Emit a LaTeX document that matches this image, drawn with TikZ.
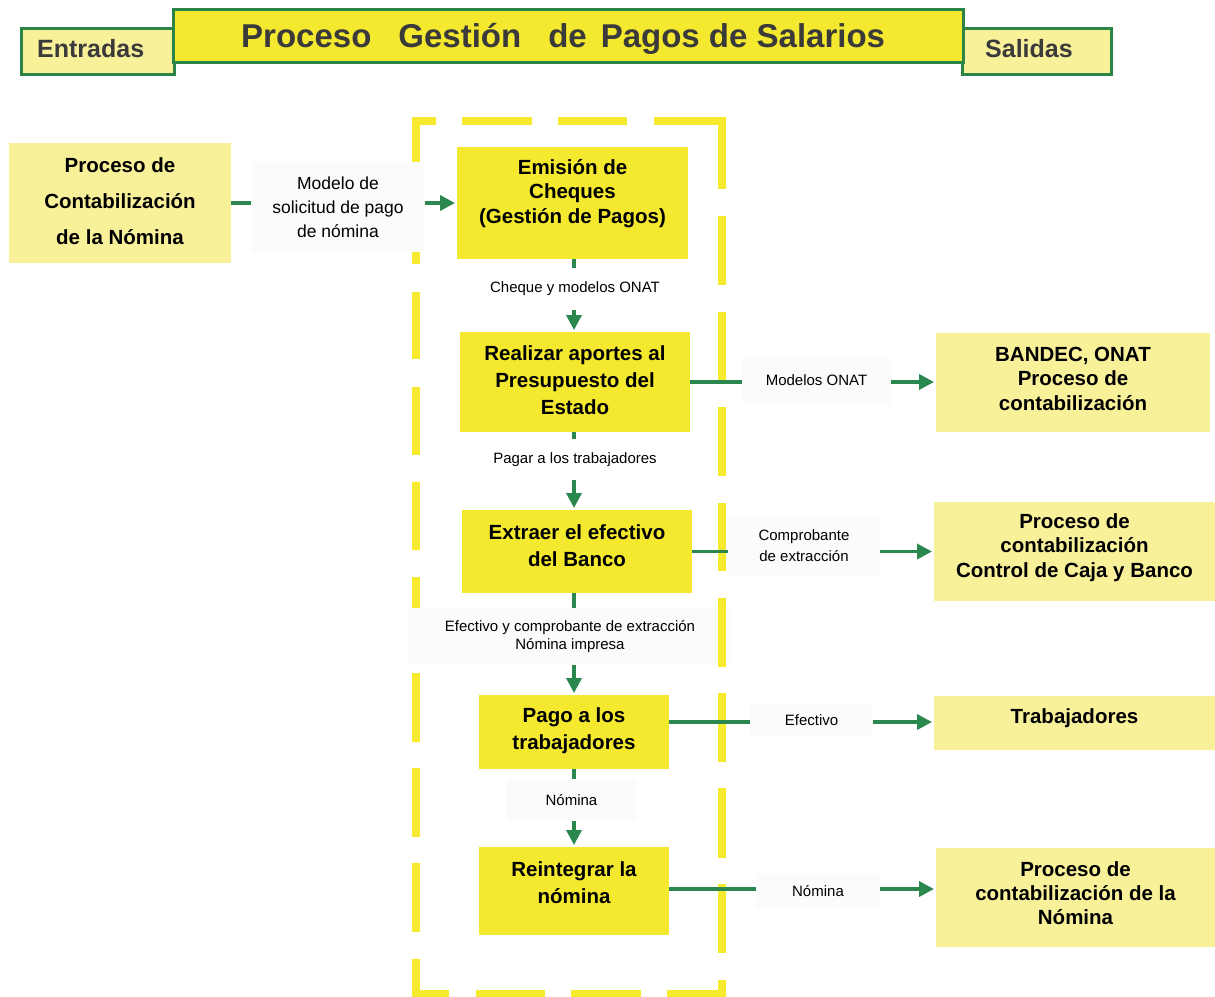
\documentclass[tikz,border=0pt]{standalone}
\usepackage{fontspec}
\setmainfont{Liberation Sans}
\usetikzlibrary{arrows.meta}
\definecolor{procY}{RGB}{244,233,46}
\definecolor{lightY}{RGB}{248,241,154}
\definecolor{hdrG}{RGB}{44,133,71}
\definecolor{flowG}{RGB}{42,135,78}
\definecolor{frameY}{RGB}{245,234,45}
\definecolor{labBg}{RGB}{251,251,251}
\definecolor{hdrTxt}{RGB}{58,58,58}

\begin{document}
\begin{tikzpicture}[x=1pt,y=-1pt,
  hdrbox/.style={draw=hdrG, line width=3pt, inner sep=0pt, outer sep=0pt},
  hdrtext/.style={text=hdrTxt, font=\bfseries\fontsize{25}{30}\selectfont, inner sep=0pt},
  procbox/.style={fill=procY, inner sep=0pt, outer sep=0pt},
  extbox/.style={fill=lightY, inner sep=0pt, outer sep=0pt},
  boxtext/.style={font=\bfseries\fontsize{20.5}{#1}\selectfont, align=center, inner sep=0pt},
  boxtext/.default=24.5,
  lab/.style={fill=labBg, inner sep=0pt, outer sep=0pt, align=center, font=\fontsize{15}{#1}\selectfont},
  lab/.default=18,
  flow/.style={draw=flowG, line width=3.5pt},
  flowarr/.style={flow, -{Triangle[length=15pt,width=15pt]}, shorten >=2pt},
  frameseg/.style={draw=frameY, line width=8pt, line cap=butt, line join=miter},
]
\useasboundingbox (0,0) rectangle (1215,996);

% ---------- header ----------
\node[hdrbox, fill=lightY, minimum width=153pt, minimum height=46pt] (entr) at (98,51.5) {};
\node[hdrbox, fill=lightY, minimum width=149pt, minimum height=46pt] (sal) at (1037,51.5) {};
\node[hdrbox, fill=procY, minimum width=790pt, minimum height=53pt] (title) at (568.5,36) {};
\node[hdrtext, anchor=base west] (entr-t) at (37,57) {Entradas};
\node[hdrtext, anchor=base west] (sal-t) at (985,57) {Salidas};
\node[text=hdrTxt, font=\bfseries\fontsize{33}{40}\selectfont, inner sep=0pt, anchor=base west] (title-t) at (241,47)
  {Proceso\hspace{27pt}Gestión\hspace{27pt}de\hspace{14pt}Pagos de Salarios};

% ---------- dashed process frame (left, top, bottom) ----------
\draw[frameseg] (415.5,169) -- (415.5,120.5) -- (436,120.5);
\draw[frameseg] (415.5,959) -- (415.5,994) -- (449,994);
\foreach \a/\b in {197/264, 292/359, 387/455, 482/550, 577/645, 673/742, 768/837, 863/932}
  \draw[frameseg] (415.5,\a) -- (415.5,\b);
\foreach \a/\b in {462/532, 558/627}
  \draw[frameseg] (\a,120.5) -- (\b,120.5);
\foreach \a/\b in {476/545, 571/641}
  \draw[frameseg] (\a,994) -- (\b,994);

% ---------- connector labels ----------
\node[lab=24, font=\fontsize{17.5}{24}\selectfont, minimum width=174pt, minimum height=90pt] (lab1) at (338,207) {Modelo de\\solicitud de pago\\de nómina};
\node[lab, fill=white, minimum width=190pt, minimum height=42pt] (lab2) at (575,289) {Cheque y modelos ONAT};
\node[lab, fill=white, minimum width=210pt, minimum height=41pt] (lab3) at (575,459.5) {Pagar a los trabajadores};
\node[lab, minimum width=149pt, minimum height=47pt] (lab4) at (816.5,380) {Modelos ONAT};
\node[lab=21, minimum width=152pt, minimum height=59pt] (lab5) at (804,545.5) {Comprobante\\de extracción};
\node[lab, minimum width=326pt, minimum height=57pt] (lab6) at (570,636.5) {Efectivo y comprobante de extracción\\Nómina impresa};
\node[lab, minimum width=123pt, minimum height=34pt] (lab7) at (811.5,720) {Efectivo};
\node[lab, minimum width=131pt, minimum height=42pt] (lab8) at (571.5,800) {Nómina};
\node[lab, minimum width=124pt, minimum height=35pt] (lab9) at (818,891.5) {Nómina};

% ---------- dashed process frame (right side) ----------
\draw[frameseg] (654,120.5) -- (722,120.5) -- (722,189);
\draw[frameseg] (722,980) -- (722,994) -- (667,994);
\foreach \a/\b in {216/285, 312/380, 407/476, 503/571, 598/667, 693/762, 788/858, 884/953}
  \draw[frameseg] (722,\a) -- (722,\b);

% ---------- input / output boxes ----------
\node[extbox, minimum width=222pt, minimum height=120pt] (in1) at (120,203) {};
\node[boxtext=36] (in1-t) at (120,201) {Proceso de\\Contabilización\\de la Nómina};

\node[extbox, minimum width=274pt, minimum height=99pt] (out1) at (1073,382.5) {};
\node[boxtext] (out1-t) at (1073,378.5) {BANDEC, ONAT\\Proceso de\\contabilización};
\node[extbox, minimum width=281pt, minimum height=99pt] (out2) at (1074.5,551.5) {};
\node[boxtext] (out2-t) at (1074.5,547.5) {Proceso de\\contabilización\\Control de Caja y Banco};
\node[extbox, minimum width=281pt, minimum height=54pt] (out3) at (1074.5,723) {};
\node[boxtext] (out3-t) at (1074.5,718) {Trabajadores};
\node[extbox, minimum width=279pt, minimum height=99pt] (out4) at (1075.5,897.5) {};
\node[boxtext=24] (out4-t) at (1075.5,893) {Proceso de\\contabilización de la\\Nómina};

% ---------- process steps ----------
\node[procbox, minimum width=231pt, minimum height=112pt] (emis) at (572.5,203) {};
\node[boxtext] (emis-t) at (572.5,193.5) {Emisión de\\Cheques\\(Gestión de Pagos)};
\node[procbox, minimum width=230pt, minimum height=100pt] (real) at (575,382) {};
\node[boxtext=27] (real-t) at (575,380) {Realizar aportes al\\Presupuesto del\\Estado};
\node[procbox, minimum width=230pt, minimum height=83pt] (extr) at (577,551.5) {};
\node[boxtext=27] (extr-t) at (577,545.5) {Extraer el efectivo\\del Banco};
\node[procbox, minimum width=190pt, minimum height=74pt] (pago) at (574,732) {};
\node[boxtext=27] (pago-t) at (574,730.5) {Pago a los\\trabajadores};
\node[procbox, minimum width=190pt, minimum height=88pt] (rein) at (574,891) {};
\node[boxtext=27] (rein-t) at (574,882.5) {Reintegrar la\\nómina};

% ---------- connectors ----------
\coordinate (col) at (574,0);
% input
\draw[flow] (in1.east) -- (in1.east -| lab1.west);
\draw[flowarr] (in1.east -| lab1.east) -- (in1.east -| emis.west);
% vertical chain
\draw[flow] (emis.south -| col) -- (lab2.north -| col);
\draw[flowarr] (lab2.south -| col) -- (real.north -| col);
\draw[flow] (real.south -| col) -- (lab3.north -| col);
\draw[flowarr] (lab3.south -| col) -- (extr.north -| col);
\draw[flow] (extr.south -| col) -- (lab6.north -| col);
\draw[flowarr] (lab6.south -| col) -- (pago.north -| col);
\draw[flow] (pago.south -| col) -- (lab8.north -| col);
\draw[flowarr] (lab8.south -| col) -- (rein.north -| col);
% outputs
\draw[flow] (real.east) -- (real.east -| lab4.west);
\draw[flowarr] (real.east -| lab4.east) -- (real.east -| out1.west);
\draw[flow] (extr.east) -- (extr.east -| lab5.west);
\draw[flowarr] (extr.east -| lab5.east) -- (extr.east -| out2.west);
\coordinate (pago-o) at ([yshift=10pt]pago.east);
\draw[flow] (pago-o) -- (pago-o -| lab7.west);
\draw[flowarr] (pago-o -| lab7.east) -- (pago-o -| out3.west);
\coordinate (rein-o) at ([yshift=2pt]rein.east);
\draw[flow] (rein-o) -- (rein-o -| lab9.west);
\draw[flowarr] (rein-o -| lab9.east) -- (rein-o -| out4.west);
\end{tikzpicture}
\end{document}
